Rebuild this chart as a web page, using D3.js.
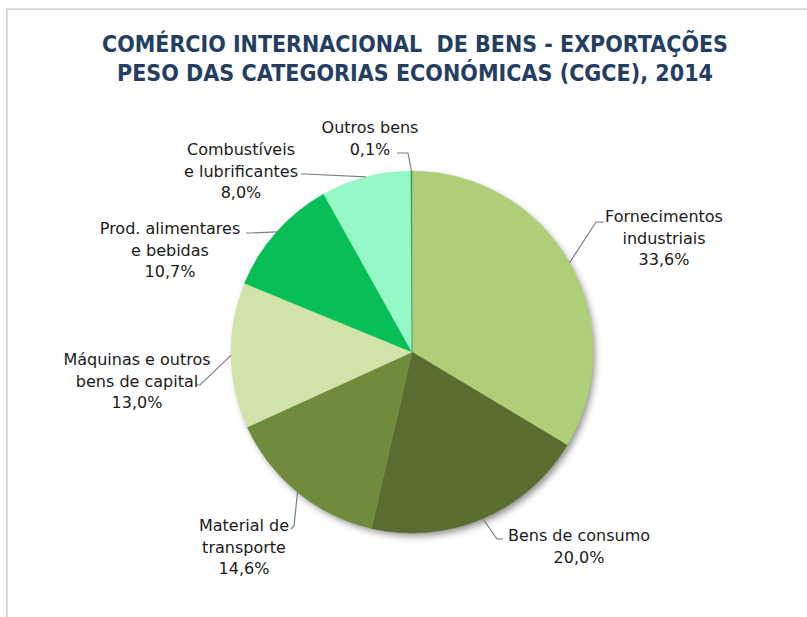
<!DOCTYPE html>
<html>
<head>
<meta charset="utf-8">
<script src="https://cdn.jsdelivr.net/npm/d3@7"></script>
<style>
  body { margin: 0; background: #fff; }
</style>
</head>
<body>
<div id="chart"></div>
<script>
// Data
const categories = [
  "Fornecimentos industriais",
  "Bens de consumo",
  "Material de transporte",
  "Máquinas e outros bens de capital",
  "Prod. alimentares e bebidas",
  "Combustíveis e lubrificantes",
  "Outros bens",
];
const values = [33.6, 20.0, 14.6, 13.0, 10.7, 8.0, 0.1];
const labelLines = [
  ["Fornecimentos", "industriais"],
  ["Bens de consumo"],
  ["Material de", "transporte"],
  ["Máquinas e outros", "bens de capital"],
  ["Prod. alimentares", "e bebidas"],
  ["Combustíveis", "e lubrificantes"],
  ["Outros bens"],
];
const colors = ["#aecf78", "#5a6d30", "#6f8b3c", "#d1e3a9", "#08bf57", "#96f8c6", "#3a9d5d"];

// Label layout: text centre, first baseline, leader elbow and end
const labelLayout = [
  { tx: 664, ty: 222, elbow: [596, 222], end: [604, 222] },
  { tx: 579, ty: 541, elbow: [497, 539], end: [503, 539] },
  { tx: 244, ty: 531, elbow: [294, 526], end: [291, 529] },
  { tx: 137, ty: 365, elbow: [200, 385], end: [196, 385] },
  { tx: 170, ty: 234, elbow: [250, 233], end: [246, 233] },
  { tx: 241, ty: 155, elbow: [305, 174], end: [301, 174] },
  { tx: 370, ty: 133, elbow: [408, 153], end: [397, 153] },
];

const W = 807, H = 617;
const cx = 412, cy = 352, r = 181;
const lineH = 21.5;

const svg = d3.select("#chart").append("svg")
  .attr("width", W)
  .attr("height", H);

// Drop shadow
const defs = svg.append("defs");
const filter = defs.append("filter")
  .attr("id", "shadow")
  .attr("x", "-20%").attr("y", "-20%")
  .attr("width", "140%").attr("height", "140%");
filter.append("feDropShadow")
  .attr("dx", 3).attr("dy", 4)
  .attr("stdDeviation", 3.5)
  .attr("flood-color", "#000")
  .attr("flood-opacity", 0.45);

// Frame
svg.append("rect")
  .attr("x", 7).attr("y", 9)
  .attr("width", W + 20).attr("height", H + 20)
  .attr("fill", "none")
  .attr("stroke", "#d9d9d9")
  .attr("stroke-width", 2);

// Title
const title = svg.append("text")
  .attr("text-anchor", "middle")
  .style("font-family", "DejaVu Sans")
  .style("font-weight", "bold")
  .style("font-size", "23px")
  .style("white-space", "pre")
  .style("fill", "#243e62");
title.append("tspan")
  .attr("x", 415).attr("y", 52)
  .attr("textLength", 626)
  .attr("lengthAdjust", "spacingAndGlyphs")
  .text("COMÉRCIO INTERNACIONAL  DE BENS - EXPORTAÇÕES");
title.append("tspan")
  .attr("x", 415).attr("y", 81)
  .attr("textLength", 596)
  .attr("lengthAdjust", "spacingAndGlyphs")
  .text("PESO DAS CATEGORIAS ECONÓMICAS (CGCE), 2014");

// Pie
const data = categories.map((c, i) => ({ name: c, value: values[i], i: i }));
const pie = d3.pie().sort(null).value(d => d.value);
const arcs = pie(data);
const arc = d3.arc().innerRadius(0).outerRadius(r);

const g = svg.append("g").attr("transform", `translate(${cx},${cy})`);

g.append("circle")
  .attr("r", r - 1)
  .attr("fill", "#fff")
  .style("filter", "url(#shadow)");

g.selectAll("path.slice")
  .data(arcs)
  .enter()
  .append("path")
  .attr("class", "slice")
  .attr("d", arc)
  .attr("fill", d => colors[d.data.i])
  .attr("stroke", d => colors[d.data.i])
  .attr("stroke-width", 0.5);

// Leader lines
arcs.forEach(a => {
  const L = labelLayout[a.data.i];
  const mid = (a.startAngle + a.endAngle) / 2;
  const sx = cx + r * Math.sin(mid);
  const sy = cy - r * Math.cos(mid);
  svg.append("polyline")
    .attr("points", [[sx, sy], L.elbow, L.end].map(p => p.join(",")).join(" "))
    .attr("fill", "none")
    .attr("stroke", "#7f7f7f")
    .attr("stroke-width", 1.2);
});

// Labels
const fmt = v => v.toFixed(1).replace(".", ",") + "%";
arcs.forEach(a => {
  const L = labelLayout[a.data.i];
  const lines = labelLines[a.data.i].concat([fmt(a.data.value)]);
  const t = svg.append("text")
    .attr("text-anchor", "middle")
    .style("font-family", "DejaVu Sans")
    .style("font-size", "16px")
    .style("fill", "#1a1a1a");
  lines.forEach((s, k) => {
    t.append("tspan")
      .attr("x", L.tx)
      .attr("y", L.ty + k * lineH)
      .text(s);
  });
});
</script>
</body>
</html>
